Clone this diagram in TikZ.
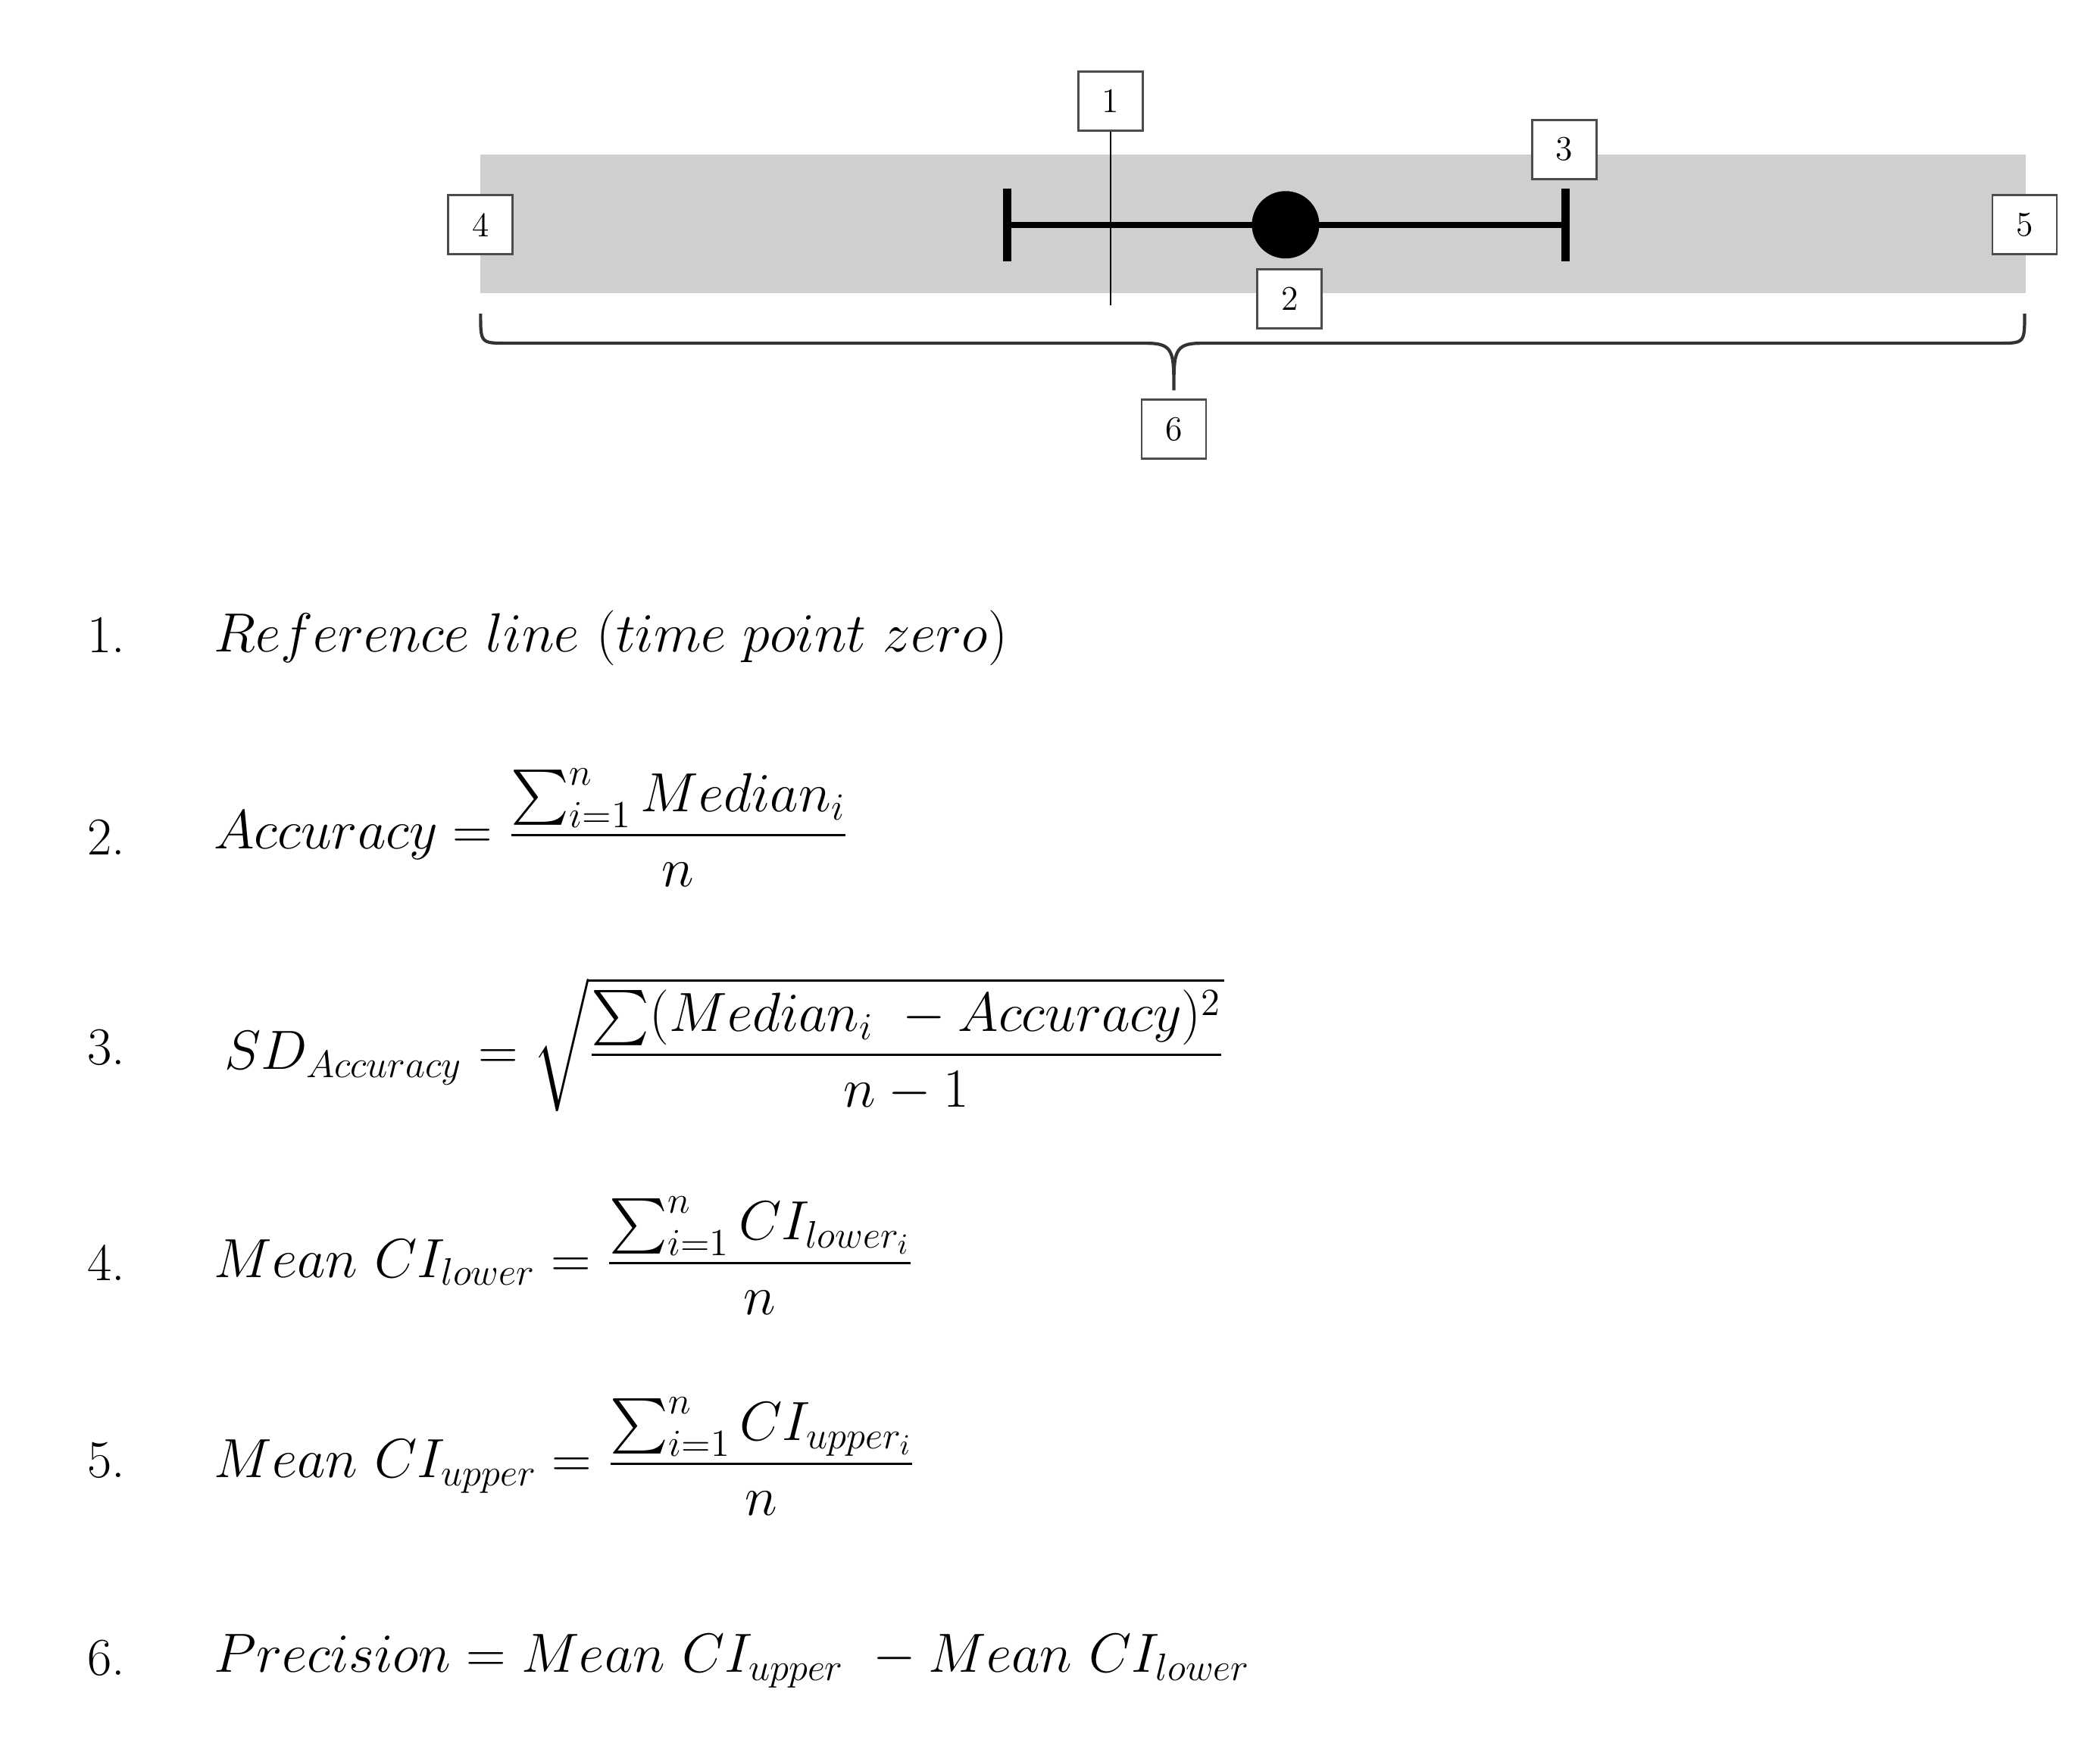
\documentclass[tikz,border=0pt]{standalone}
\usepackage{amsmath}
\begin{document}
\begin{tikzpicture}[x=0.01777cm,y=-0.01777cm,
  lbl/.style={draw=black!70,line width=0.8pt,fill=white,minimum width=0.85cm,minimum height=0.78cm,inner sep=0pt,font=\fontsize{13}{15}\selectfont},
  num/.style={anchor=west,font=\fontsize{20}{24}\selectfont},
  eq/.style={anchor=west,font=\fontsize{21}{25}\selectfont}]
\useasboundingbox (0,0) rectangle (1560,1297);
\fill[black!19] (357,115) rectangle (1505,218);
% reference line
\coordinate (rt) at (825,97);
\coordinate (rb) at (825,227);
\draw[line width=0.8pt] (rt) -- (rb);
% error bar
\coordinate (L) at (748,167);
\coordinate (R) at (1163,167);
\draw[line width=2.4pt] (L) -- (R);
\draw[line width=3.2pt] (748,140) -- (748,194);
\draw[line width=3.2pt] (1163,140) -- (1163,194);
\node[circle,fill=black,minimum size=0.89cm,inner sep=0pt] (dot) at (955,167) {};
% labels
\node[lbl] (b1) at (825,75) {1};
\node[lbl] (b2) at (958,222) {2};
\node[lbl] (b3) at (1162,111) {3};
\node[lbl] (b4) at (357,167) {4};
\node[lbl] (b5) at (1504,167) {5};
% brace
\draw[line width=1.2pt,black!80] (357,233) .. controls (357,255) and (357,255) .. (377,255) -- (852,255) .. controls (872,255) and (872,262) .. (872,290)
  .. controls (872,262) and (872,255) .. (892,255) -- (1484,255) .. controls (1504,255) and (1504,255) .. (1504,233);
\node[lbl] (b6) at (872,319) {6};
% list
\node[num] (n1) at (58,472) {1.};
\node[num] (n2) at (58,622) {2.};
\node[num] (n3) at (58,778) {3.};
\node[num] (n4) at (58,938) {4.};
\node[num] (n5) at (58,1085) {5.};
\node[num] (n6) at (58,1232) {6.};
\node[eq] (e1) at (152,474) {$Reference\ line\ (time\ point\ zero)$};
\node[eq] (e2) at (152,615) {$\displaystyle Accuracy = \frac{\sum_{i=1}^{n} Median_i}{n}$};
\node[eq] (e3) at (160,776) {$\displaystyle SD_{Accuracy} = \sqrt{\frac{\sum(Median_i\ -Accuracy)^2}{n-1}}$};
\node[eq] (e4) at (152,933) {$\displaystyle Mean\ CI_{lower} = \frac{\sum_{i=1}^{n} CI_{lower_i}}{n}$};
\node[eq] (e5) at (152,1082) {$\displaystyle Mean\ CI_{upper} = \frac{\sum_{i=1}^{n} CI_{upper_i}}{n}$};
\node[eq] (e6) at (152,1234) {$Precision = Mean\ CI_{upper}\ - Mean\ CI_{lower}$};
\end{tikzpicture}
\end{document}
